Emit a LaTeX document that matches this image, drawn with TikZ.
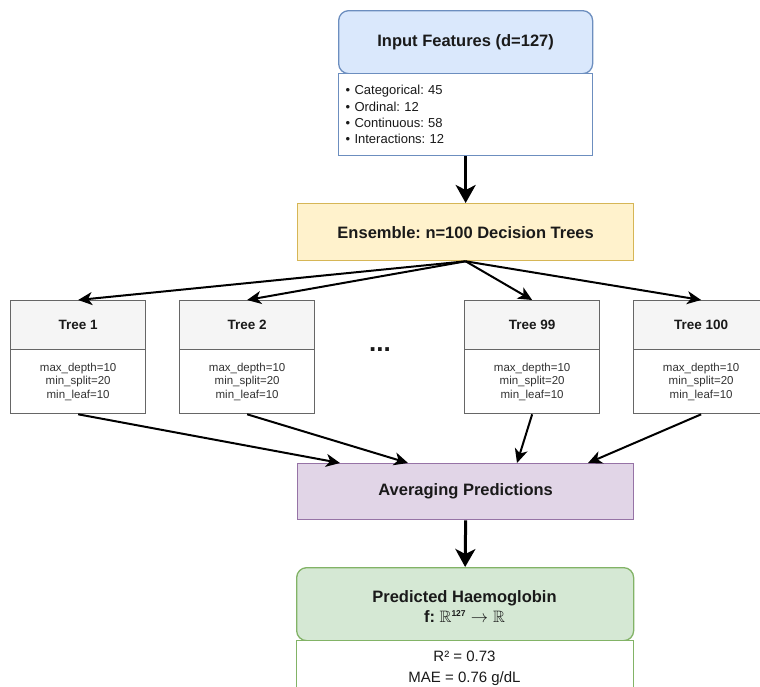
\documentclass[tikz,border=0pt]{standalone}
\usepackage{fontspec}
\setmainfont{Liberation Sans}
\usepackage{amssymb}
\usetikzlibrary{arrows.meta,calc}
\definecolor{bluefill}{HTML}{DAE8FC}
\definecolor{blueline}{HTML}{6C8EBF}
\definecolor{yelfill}{HTML}{FFF2CC}
\definecolor{yelline}{HTML}{D6B656}
\definecolor{grayfill}{HTML}{F5F5F5}
\definecolor{grayline}{HTML}{666666}
\definecolor{purfill}{HTML}{E1D5E7}
\definecolor{purline}{HTML}{9673A6}
\definecolor{grnfill}{HTML}{D5E8D4}
\definecolor{grnline}{HTML}{82B366}
\definecolor{txt}{HTML}{1A1A1A}
\definecolor{ptxt}{HTML}{333333}
\frenchspacing
\tikzset{
  box/.style={anchor=north west, inner sep=0pt, line width=1.3pt},
  title/.style={font=\fontsize{16.5}{20}\selectfont\bfseries, text=txt, align=center},
  treetitle/.style={font=\fontsize{13.5}{16}\selectfont\bfseries, text=txt},
  params/.style={font=\fontsize{11.5}{13.5}\selectfont, text=ptxt, align=center},
  bigarrow/.style={line width=3pt, -{Stealth[length=18pt,width=20pt,inset=5pt]}},
  smallarrow/.style={line width=2pt, -{Stealth[length=14pt,width=13pt,inset=4pt]}},
  treehead/.style={box, fill=grayfill, draw=grayline, minimum width=135, minimum height=49, treetitle},
  treebody/.style={box, fill=white, draw=grayline, minimum width=135, minimum height=64, params},
}
\begin{document}
\frenchspacing
\begin{tikzpicture}[x=1pt,y=-1pt]
\useasboundingbox (0,0) rectangle (760,686);
% Input features
\node[box, rounded corners=10pt, fill=bluefill, draw=blueline, minimum width=254, minimum height=63, title] (inh) at (338,10) {Input Features (d=127)};
\node[box, fill=white, draw=blueline, minimum width=254, minimum height=82, text width=240, align=left, font=\fontsize{13}{16.3}\selectfont, text=txt] (inb) at (338,73)
  {\textbullet\ Categorical: 45\\ \textbullet\ Ordinal: 12\\ \textbullet\ Continuous: 58\\ \textbullet\ Interactions: 12};
% Ensemble
\node[box, fill=yelfill, draw=yelline, minimum width=336, minimum height=57, title] (ens) at (297,203) {Ensemble: n=100 Decision Trees};
% Trees
\node[treehead] (t1h) at (10,300) {Tree 1};
\node[treebody] (t1b) at (10,349) {max\_depth=10\\min\_split=20\\min\_leaf=10};
\node[treehead] (t2h) at (179,300) {Tree 2};
\node[treebody] (t2b) at (179,349) {max\_depth=10\\min\_split=20\\min\_leaf=10};
\node[treehead] (t99h) at (464,300) {Tree 99};
\node[treebody] (t99b) at (464,349) {max\_depth=10\\min\_split=20\\min\_leaf=10};
\node[treehead] (t100h) at (633,300) {Tree 100};
\node[treebody] (t100b) at (633,349) {max\_depth=10\\min\_split=20\\min\_leaf=10};
\node[font=\fontsize{26}{26}\selectfont\bfseries, text=txt, inner sep=0pt] (dots) at (380,350) {...};
% Averaging
\node[box, fill=purfill, draw=purline, minimum width=336, minimum height=56, title] (avg) at (297,463) {Averaging Predictions};
% Output
\node[box, rounded corners=10pt, fill=grnfill, draw=grnline, minimum width=337, minimum height=73] (outh) at (296,567) {};
\node[title, inner sep=0pt] (outt) at (464.5,607) {Predicted Haemoglobin\\ f: $\mathbb{R}^{\mbox{\fontsize{8.5}{9}\selectfont\bfseries 127}}\rightarrow\mathbb{R}$};
\node[box, fill=white, draw=grnline, minimum width=337, minimum height=70] (outb) at (296,640) {};
\node[font=\fontsize{15}{21}\selectfont, text=txt, align=center, inner sep=0pt] (metrics) at (464.5,668.5) {R² = 0.73\\MAE = 0.76 g/dL};
% coordinates on averaging top
\coordinate (a1) at ($(avg.north west)+(43,0)$);
\coordinate (a2) at ($(avg.north west)+(111,0)$);
\coordinate (a3) at ($(avg.north west)+(220,0)$);
\coordinate (a4) at ($(avg.north west)+(291,0)$);
% arrows
\draw[bigarrow] (inb.south) -- (ens.north);
\draw[smallarrow] (ens.south) -- (t1h.north);
\draw[smallarrow] (ens.south) -- (t2h.north);
\draw[smallarrow] (ens.south) -- (t99h.north);
\draw[smallarrow] (ens.south) -- (t100h.north);
\draw[smallarrow] (t1b.south) -- (a1);
\draw[smallarrow] (t2b.south) -- (a2);
\draw[smallarrow] (t99b.south) -- (a3);
\draw[smallarrow] (t100b.south) -- (a4);
\draw[bigarrow] (avg.south) -- (outh.north);
\end{tikzpicture}
\end{document}
